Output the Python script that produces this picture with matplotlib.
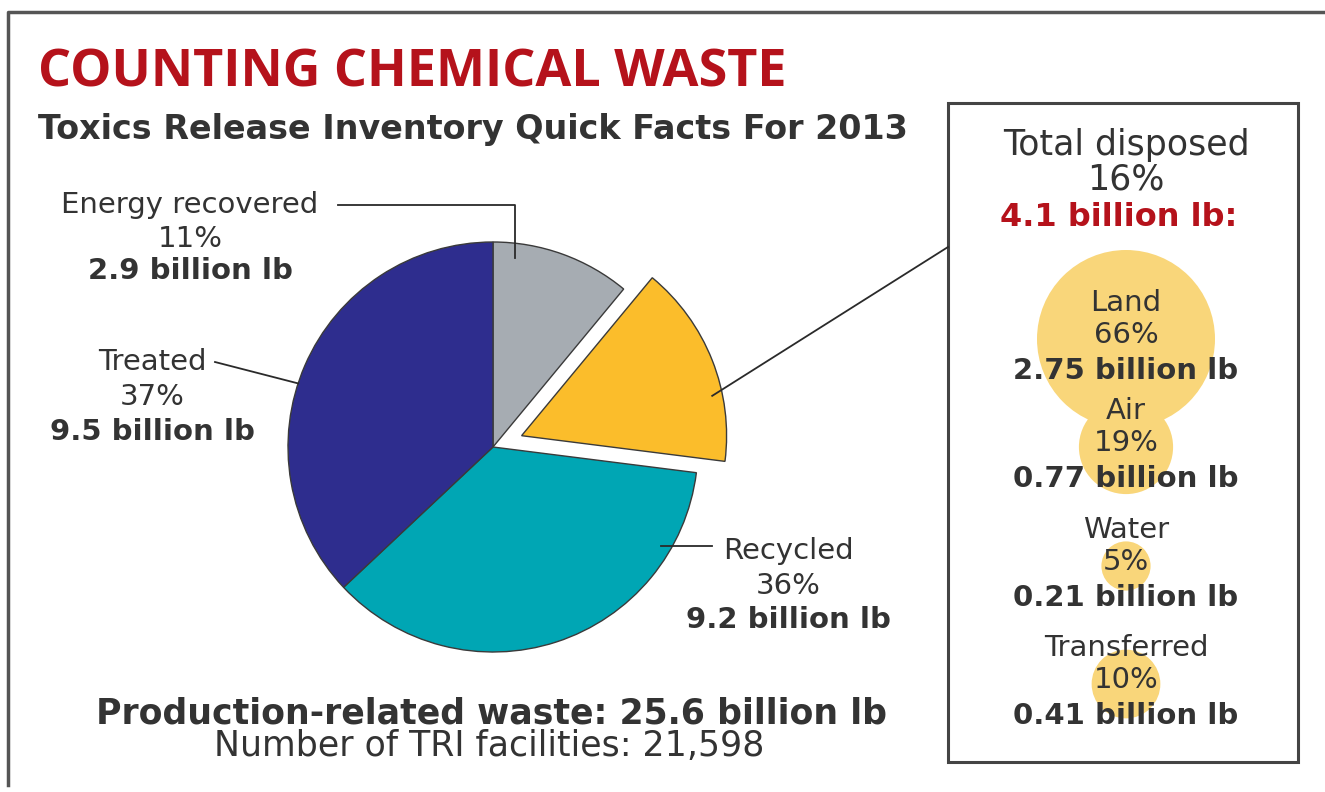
import numpy as np
import matplotlib

matplotlib.use("Agg")
import matplotlib.pyplot as plt
from matplotlib.patches import Circle, Rectangle

plt.rcParams["font.family"] = ["DejaVu Sans"]

# pie: production-related waste, billion lb
pie_labels = ["Energy recovered", "Total disposed", "Recycled", "Treated"]
pie_pct = [11, 16, 36, 37]
pie_lb = [2.9, 4.1, 9.2, 9.5]
pie_colors = ["#a6acb2", "#fbbd2b", "#00a6b4", "#2e2d8e"]

# disposal breakdown (bubbles), billion lb
disp_labels = ["Land", "Air", "Water", "Transferred"]
disp_pct = [66, 19, 5, 10]
disp_lb = [2.75, 0.77, 0.21, 0.41]

total_waste = 25.6
facilities = "21,598"

W, H = 1325, 792
INK = "#333333"
RED = "#b5121b"


def Y(y):
    return H - y


fig = plt.figure(figsize=(W / 100, H / 100), dpi=100)
ax = fig.add_axes([0, 0, 1, 1])

# pie, centred in pixel space (explode is in data units)
cx, cy, R = 493, Y(447), 205
wedges, _ = ax.pie(
    pie_pct, colors=pie_colors, startangle=90, counterclock=False,
    explode=[0, 0.15 * R, 0, 0], center=(cx, cy), radius=R,
    wedgeprops=dict(edgecolor="#3a3a3a", linewidth=1.0),
)
ax.set_xlim(0, W)
ax.set_ylim(0, H)
ax.set_aspect("equal")
ax.axis("off")


def on_wedge(w, frac, rfrac):
    # point inside a wedge: frac along its angle span, rfrac of its radius
    a = np.radians(w.theta1 + frac * (w.theta2 - w.theta1))
    x0, y0 = w.center
    return x0 + w.r * rfrac * np.cos(a), y0 + w.r * rfrac * np.sin(a)


line_kw = dict(color="#2a2a2a", lw=1.3)

# leaders
ex, ey = on_wedge(wedges[0], 0.83, 0.93)
ax.plot([338, ex, ex], [Y(205), Y(205), ey], **line_kw)
tx, ty = on_wedge(wedges[3], 0.54, 1.0)
ax.plot([215, tx], [Y(362), ty], **line_kw)
rx, ry = on_wedge(wedges[2], 0.82, 0.95)
ax.plot([rx, 712], [ry, ry], **line_kw)
dx, dy = on_wedge(wedges[1], 0.33, 0.95)
ax.plot([dx, 948], [dy, Y(247)], **line_kw)


def label3(x, ys, name, pct, lb, size=21):
    ax.text(x, Y(ys[0]), name, ha="center", va="center", fontsize=size, color=INK)
    ax.text(x, Y(ys[1]), f"{pct}%", ha="center", va="center", fontsize=size, color=INK)
    ax.text(x, Y(ys[2]), f"{lb} billion lb", ha="center", va="center",
            fontsize=size, fontweight="bold", color=INK)


label3(190, (205, 239, 271), pie_labels[0], pie_pct[0], pie_lb[0])
label3(152, (362, 397, 432), pie_labels[3], pie_pct[3], pie_lb[3])
label3(788, (551, 586, 620), pie_labels[2], pie_pct[2], pie_lb[2])

# titles
ax.text(38, Y(73), "COUNTING CHEMICAL WASTE", ha="left", va="center",
        fontsize=37.5, fontweight="bold", color=RED, family="Open Sans")
ax.text(38, Y(130), "Toxics Release Inventory Quick Facts For 2013", ha="left",
        va="center", fontsize=24, fontweight="bold", color=INK)

# bottom totals
ax.text(492, Y(713), f"Production-related waste: {total_waste} billion lb",
        ha="center", va="center", fontsize=25, fontweight="bold", color=INK)
ax.text(489, Y(746), f"Number of TRI facilities: {facilities}",
        ha="center", va="center", fontsize=25, color=INK)

# frame lines
ax.plot([8, 8, W], [Y(785), Y(12), Y(12)], color="#555555", lw=2.5)

# disposal box
ax.add_patch(Rectangle((948, Y(762)), 350, 659, fill=False,
                       edgecolor="#444444", lw=2.2))
bx = 1126
ax.text(bx, Y(145), "Total disposed", ha="center", va="center", fontsize=25, color=INK)
ax.text(bx, Y(180), f"{pie_pct[1]}%", ha="center", va="center", fontsize=25, color=INK)
ax.text(1119, Y(217), f"{pie_lb[1]} billion lb:", ha="center", va="center",
        fontsize=23, fontweight="bold", color=RED)

bub_y = [339, 447, 566, 684]
r_land = 89
for i, (name, pct, lb) in enumerate(zip(disp_labels, disp_pct, disp_lb)):
    r = r_land * np.sqrt(lb / disp_lb[0])
    ax.add_patch(Circle((bx, Y(bub_y[i])), r, color="#f9d67a", lw=0, zorder=1))
for i, (name, pct, lb) in enumerate(zip(disp_labels, disp_pct, disp_lb)):
    yc = bub_y[i]
    ax.text(bx, Y(yc - 36), name, ha="center", va="center", fontsize=21, color=INK, zorder=3)
    ax.text(bx, Y(yc - 4), f"{pct}%", ha="center", va="center", fontsize=21, color=INK, zorder=3)
    ax.text(bx, Y(yc + 32), f"{lb} billion lb", ha="center", va="center",
            fontsize=21, fontweight="bold", color=INK, zorder=3)

fig.savefig("out.png", dpi=100)
